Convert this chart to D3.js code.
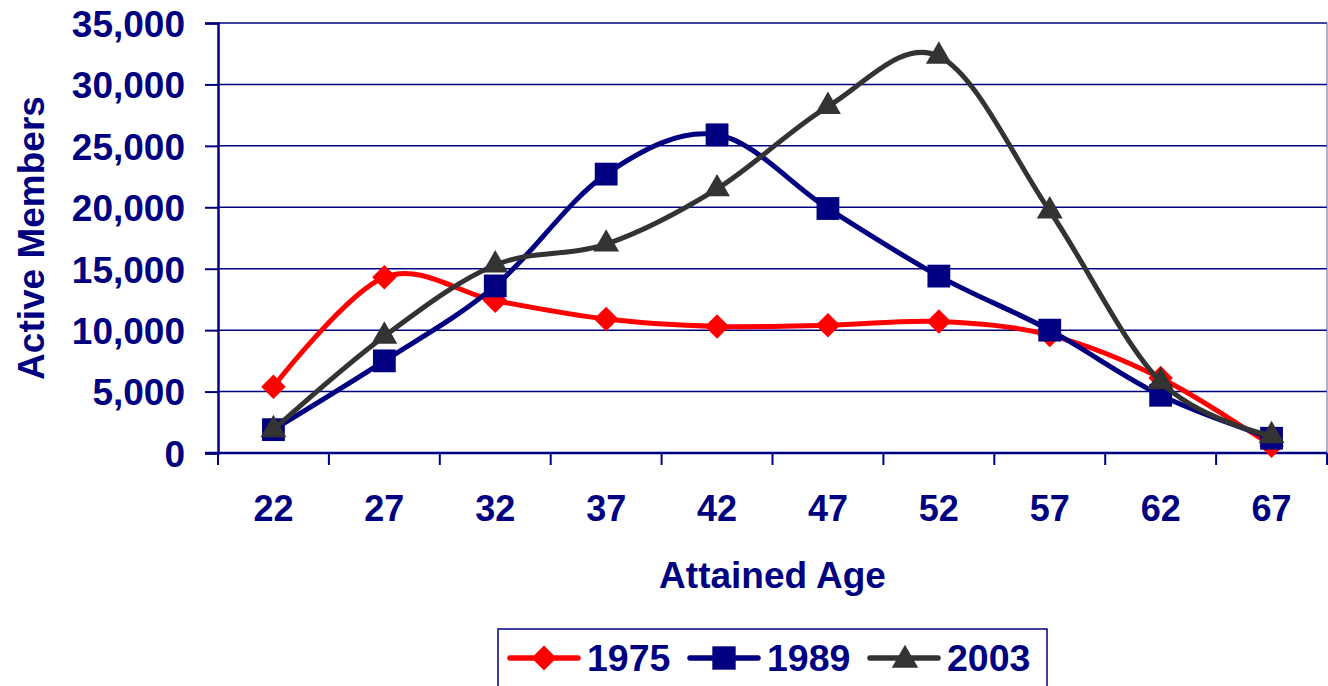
<!DOCTYPE html>
<html>
<head>
<meta charset="utf-8">
<script src="https://cdn.jsdelivr.net/npm/d3@7"></script>
<style>
  body { margin: 0; background: #fff; }
  text { font-family: "Liberation Sans", Arial, sans-serif; font-weight: bold; fill: #000080; }
</style>
</head>
<body>
<div id="chart"></div>
<script>
// attained age categories
var ages = ["22", "27", "32", "37", "42", "47", "52", "57", "62", "67"];
var yTicks = [0, 5000, 10000, 15000, 20000, 25000, 30000, 35000];

// active members
var members1975 = [5400, 14300, 12400, 10900, 10300, 10400, 10700, 9600, 6100, 600];
var members1989 = [1900, 7500, 13600, 22700, 25900, 19900, 14400, 10000, 4700, 1200];
var members2003 = [1900, 9500, 15300, 17000, 21500, 28200, 32300, 19700, 5800, 1400];

var seriesNames = ["1975", "1989", "2003"];

// excel-like diamond (square turned 45 degrees)
var diamond = {
    draw: function (ctx, size) {
        var r = Math.sqrt(size / 2);
        ctx.moveTo(0, -r);
        ctx.lineTo(r, 0);
        ctx.lineTo(0, r);
        ctx.lineTo(-r, 0);
        ctx.closePath();
    }
};

var data = [
    { name: seriesNames[0], values: members1975, color: "#ff0000", symbol: diamond, size: 300 },
    { name: seriesNames[1], values: members1989, color: "#000080", symbol: d3.symbolSquare, size: 520 },
    { name: seriesNames[2], values: members2003, color: "#333333", symbol: d3.symbolTriangle, size: 290 }
];

var W = 1328, H = 686;
var margin = { top: 23, right: 1, bottom: 233, left: 218 };
var width = W - margin.left - margin.right;
var height = H - margin.top - margin.bottom;

var svg = d3.select("#chart").append("svg")
    .attr("width", W)
    .attr("height", H);

var g = svg.append("g")
    .attr("transform", "translate(" + margin.left + "," + margin.top + ")");

var xScale = d3.scaleBand().domain(ages).range([0, width]);
var yScale = d3.scaleLinear().domain([0, 35000]).range([height, 0]);

// gridlines
g.append("g")
    .selectAll("line")
    .data(yTicks.slice(1))
    .enter().append("line")
    .attr("x1", 0)
    .attr("x2", width)
    .attr("y1", d => yScale(d))
    .attr("y2", d => yScale(d))
    .attr("stroke", "#000080")
    .attr("stroke-width", 1.5);

// right border
g.append("line")
    .attr("x1", width).attr("x2", width)
    .attr("y1", 0).attr("y2", height)
    .attr("stroke", "#6060a0")
    .attr("stroke-width", 1);

// y axis
var yAxis = d3.axisLeft(yScale)
    .tickValues(yTicks)
    .tickSize(13)
    .tickPadding(20)
    .tickFormat(d3.format(","));

var yG = g.append("g").call(yAxis);
yG.select(".domain").attr("stroke", "#000080").attr("stroke-width", 2.5);
yG.selectAll(".tick line").attr("stroke", "#000080").attr("stroke-width", 2);
yG.selectAll(".tick text").style("font-size", "37px").attr("dy", "0.36em");

// x axis
var xAxis = d3.axisBottom(xScale).tickSize(0).tickPadding(42);
var xG = g.append("g")
    .attr("transform", "translate(0," + height + ")")
    .call(xAxis);
xG.select(".domain").remove();
xG.selectAll(".tick text").style("font-size", "36px");
g.append("line")
    .attr("x1", -13).attr("x2", width)
    .attr("y1", height).attr("y2", height)
    .attr("stroke", "#000080").attr("stroke-width", 2.5);
// tick marks between categories
g.append("g")
    .selectAll("line")
    .data(d3.range(ages.length + 1))
    .enter().append("line")
    .attr("x1", i => i * xScale.step())
    .attr("x2", i => i * xScale.step())
    .attr("y1", height)
    .attr("y2", height + 12)
    .attr("stroke", "#000080")
    .attr("stroke-width", 2);

// axis titles
svg.append("text")
    .attr("x", margin.left + width / 2)
    .attr("y", 588)
    .attr("text-anchor", "middle")
    .style("font-size", "37px")
    .text("Attained Age");

svg.append("text")
    .attr("transform", "translate(44,238) rotate(-90)")
    .attr("text-anchor", "middle")
    .style("font-size", "37px")
    .text("Active Members");

// lines
var line = d3.line()
    .x((d, i) => xScale(ages[i]) + xScale.bandwidth() / 2)
    .y(d => yScale(d))
    .curve(d3.curveCatmullRom.alpha(0));

var series = g.selectAll(".series")
    .data(data)
    .enter().append("g")
    .attr("class", "series");

series.append("path")
    .attr("d", d => line(d.values))
    .attr("fill", "none")
    .attr("stroke", d => d.color)
    .attr("stroke-width", 5)
    .attr("stroke-linejoin", "round");

series.selectAll("path.marker")
    .data(d => d.values.map((v, i) => ({ v: v, i: i, s: d })))
    .enter().append("path")
    .attr("class", "marker")
    .attr("transform", d => "translate(" + (xScale(ages[d.i]) + xScale.bandwidth() / 2) + "," + yScale(d.v) + ")")
    .attr("d", d => d3.symbol().type(d.s.symbol).size(d.s.size)())
    .attr("fill", d => d.s.color);

// legend
var legend = svg.append("g").attr("transform", "translate(498,629)");
legend.append("rect")
    .attr("x", 0).attr("y", 0)
    .attr("width", 549).attr("height", 70)
    .attr("fill", "#fff")
    .attr("stroke", "#000080")
    .attr("stroke-width", 1.5);

var items = legend.selectAll(".item")
    .data(data)
    .enter().append("g")
    .attr("class", "item")
    .attr("transform", (d, i) => "translate(" + (12 + i * 180) + ",29)");

items.append("line")
    .attr("x1", 0).attr("x2", 68)
    .attr("y1", 0).attr("y2", 0)
    .attr("stroke", d => d.color)
    .attr("stroke-width", 5.5)
    .attr("stroke-linecap", "round");

items.append("path")
    .attr("transform", (d, i) => "translate(" + [34, 34, 35][i] + "," + (i === 2 ? 2 : 0) + ")")
    .attr("d", d => d3.symbol().type(d.symbol).size(d.size * 1.05)())
    .attr("fill", d => d.color);

items.append("text")
    .attr("x", 77)
    .attr("y", 13)
    .style("font-size", "37.5px")
    .text(d => d.name);
</script>
</body>
</html>
